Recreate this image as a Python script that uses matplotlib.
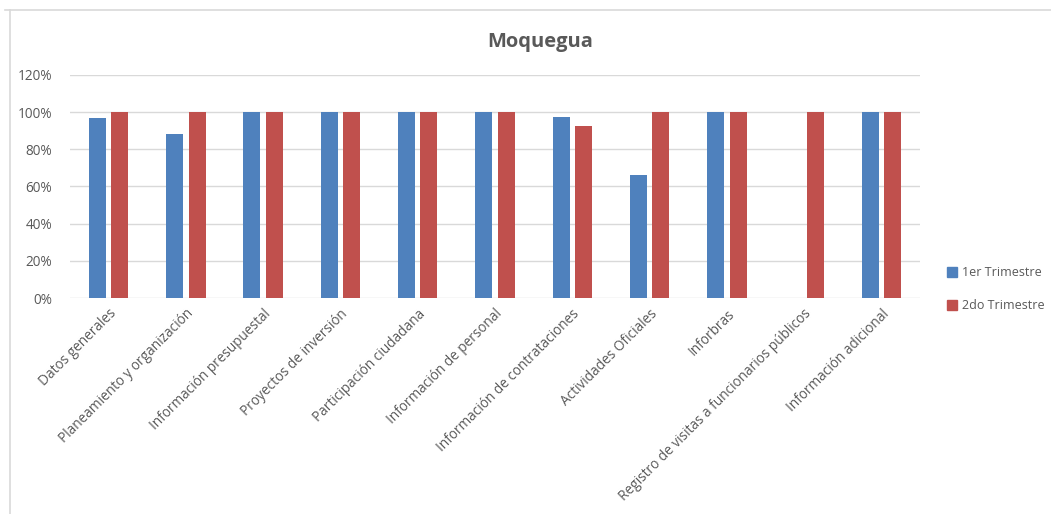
import numpy as np
import matplotlib
matplotlib.use("Agg")
import matplotlib.pyplot as plt
from matplotlib.lines import Line2D
from matplotlib.ticker import FuncFormatter

# Datos
categorias = [
    "Datos generales",
    "Planeamiento y organización",
    "Información presupuestal",
    "Proyectos de inversión",
    "Participación ciudadana",
    "Información de personal",
    "Información de contrataciones",
    "Actividades Oficiales",
    "Inforbras",
    "Registro de visitas a funcionarios públicos",
    "Información adicional",
]
trim1 = [0.97, 0.88, 1.00, 1.00, 1.00, 1.00, 0.975, 0.66, 1.00, 0.0, 1.00]
trim2 = [1.00, 1.00, 1.00, 1.00, 1.00, 1.00, 0.925, 1.00, 1.00, 1.00, 1.00]
series = ["1er Trimestre", "2do Trimestre"]
colores = ["#4f81bd", "#c0504d"]

plt.rcParams['font.family'] = ['Open Sans', 'DejaVu Sans']
gris = "#595959"

W, H = 1051, 514
fig = plt.figure(figsize=(W / 100, H / 100), dpi=100)
ax = fig.add_axes([70 / W, 1 - 298 / H, 850 / W, 223 / H])

x = np.arange(len(categorias))
ancho = 0.22
sep = 0.035
ax.bar(x - ancho / 2 - sep, trim1, ancho, color=colores[0], label=series[0], zorder=3)
ax.bar(x + ancho / 2 + sep, trim2, ancho, color=colores[1], label=series[1], zorder=3)

ax.set_xlim(-0.5, len(categorias) - 0.5)
ax.set_ylim(0, 1.2)
ax.set_yticks(np.arange(0, 1.21, 0.2))
ax.yaxis.set_major_formatter(FuncFormatter(lambda v, p: f"{v * 100:.0f}%"))
ax.grid(axis='y', color="#d9d9d9", linewidth=1, zorder=0)
for s in ax.spines.values():
    s.set_visible(False)
ax.tick_params(axis='both', length=0, colors=gris, labelsize=9.8)
ax.tick_params(axis='y', pad=13)
ax.set_xticks(x)
ax.set_xticklabels(categorias, rotation=45, ha='right', rotation_mode='anchor')
ax.tick_params(axis='x', pad=6)

fig.text(540 / W, 1 - 42 / H, "Moquegua", ha='center', va='center',
         fontsize=14.5, fontweight='bold', color=gris)

handles = [Line2D([], [], marker='s', linestyle='none', markersize=7,
                  color=c) for c in colores]
fig.legend(handles, series, loc='center left', bbox_to_anchor=(934 / W, 1 - 289 / H),
           frameon=False, fontsize=9, labelcolor=gris, handletextpad=0.35,
           labelspacing=1.6, handlelength=1.0)

# marco del area del grafico
fig.add_artist(Line2D([5 / W, 1], [1 - 10 / H, 1 - 10 / H], color="#d9d9d9", lw=1.2))
fig.add_artist(Line2D([10 / W, 10 / W], [0, 1 - 10 / H], color="#d9d9d9", lw=1.2))

fig.savefig("out.png", dpi=100)
